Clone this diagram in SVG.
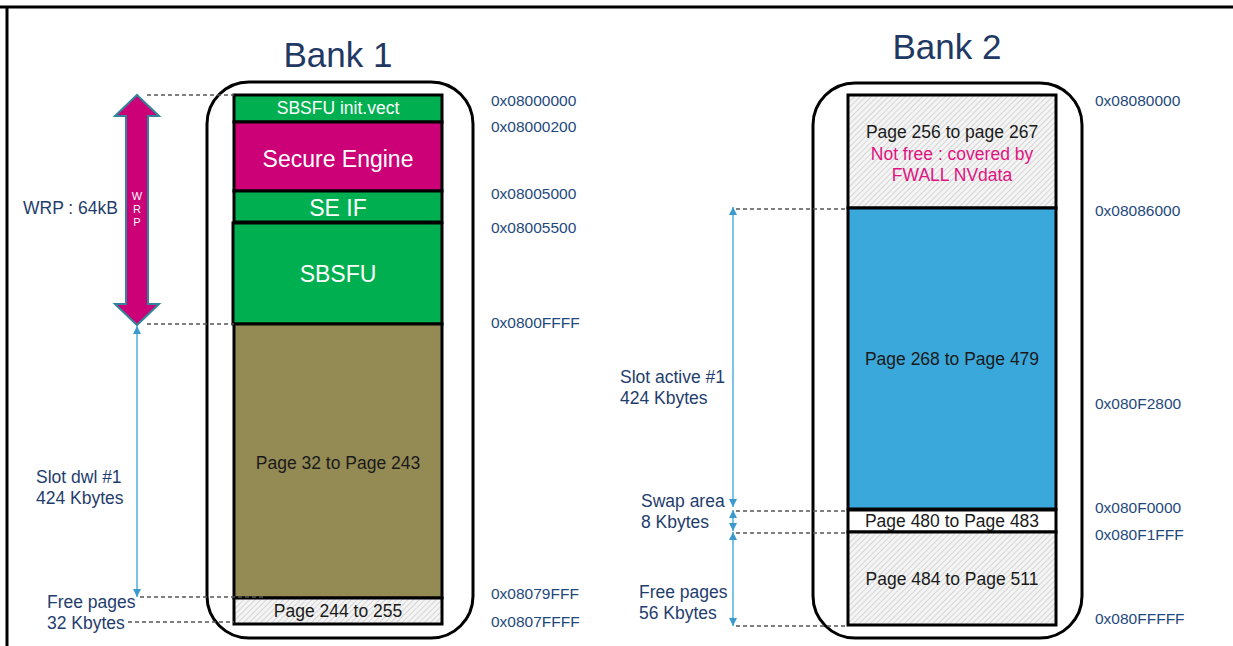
<svg xmlns="http://www.w3.org/2000/svg" width="1233" height="646" viewBox="0 0 1233 646">
  <style>
    text { font-family: "Liberation Sans", Arial, sans-serif; }
    .addr { font-size: 15.5px; fill: #1F497D; }
    .lbl { font-size: 17.5px; fill: #1F3D6D; }
    .title { font-size: 35px; fill: #1F3864; text-anchor: middle; }
    .blk { stroke: #000; stroke-width: 3; }
    .bank { fill: none; stroke: #000; stroke-width: 3; }
    .wt { fill: #fff; text-anchor: middle; }
    .dk { fill: #1a1a1a; text-anchor: middle; font-size: 17.5px; }
    .pk { fill: #E0137F; text-anchor: middle; font-size: 17.5px; }
    .dash { stroke: #555; stroke-width: 1.3; stroke-dasharray: 4 3; fill: none; }
    .dim { stroke: #5BB4E5; stroke-width: 1.6; fill: none; }
  </style>
  <defs>
    <pattern id="hatch" width="4" height="4" patternUnits="userSpaceOnUse" patternTransform="rotate(45)">
      <rect width="4" height="4" fill="#F4F4F4"/>
      <line x1="0" y1="0" x2="0" y2="4" stroke="#B8B8B8" stroke-width="1"/>
    </pattern>
    <marker id="ah" viewBox="0 0 10 10" refX="10" refY="5" markerWidth="8" markerHeight="8" markerUnits="userSpaceOnUse" orient="auto-start-reverse">
      <path d="M0,0 L10,5 L0,10 z" fill="#3A9AD0"/>
    </marker>
  </defs>

  <!-- page frame -->
  <line x1="0" y1="7" x2="1233" y2="7" stroke="#000" stroke-width="3"/>
  <line x1="7" y1="7" x2="7" y2="646" stroke="#000" stroke-width="3"/>

  <!-- Bank 1 -->
  <g id="bank1">
    <text class="title" x="338" y="67">Bank 1</text>
    <rect class="bank" x="207" y="82" width="266" height="556" rx="42"/>
  </g>
  <g id="b1-initvect">
    <rect class="blk" x="234" y="95" width="208" height="27" fill="#00B050"/>
    <text class="wt" x="338" y="114" font-size="17.5">SBSFU init.vect</text>
  </g>
  <g id="b1-se">
    <rect class="blk" x="234" y="122" width="208" height="69" fill="#CC0077"/>
    <text class="wt" x="338" y="167" font-size="23">Secure Engine</text>
  </g>
  <g id="b1-seif">
    <rect class="blk" x="234" y="191" width="208" height="31" fill="#00B050"/>
    <text class="wt" x="338" y="216" font-size="23">SE IF</text>
  </g>
  <g id="b1-sbsfu">
    <rect class="blk" x="233" y="223" width="209" height="101" fill="#00B050"/>
    <text class="wt" x="338" y="282" font-size="23">SBSFU</text>
  </g>
  <g id="b1-slot">
    <rect class="blk" x="234" y="324" width="208" height="274" fill="#948A54"/>
    <text class="dk" x="338" y="469">Page 32 to Page 243</text>
  </g>
  <g id="b1-free">
    <rect class="blk" x="234" y="598" width="208" height="26" fill="url(#hatch)"/>
    <text class="dk" x="338" y="617">Page 244 to 255</text>
  </g>
  <g id="b1-addr">
    <text class="addr" x="491" y="106">0x08000000</text>
    <text class="addr" x="491" y="132">0x08000200</text>
    <text class="addr" x="491" y="199">0x08005000</text>
    <text class="addr" x="491" y="233">0x08005500</text>
    <text class="addr" x="491" y="328">0x0800FFFF</text>
    <text class="addr" x="491" y="599">0x08079FFF</text>
    <text class="addr" x="491" y="627">0x0807FFFF</text>
  </g>
  <g id="b1-wrp">
    <path d="M137,95 L159,116 L148,116 L148,304 L159,304 L137,325 L115,304 L126,304 L126,116 L115,116 Z" fill="#CC0077" stroke="#31849B" stroke-width="2" stroke-linejoin="miter"/>
    <text x="137" y="200" font-size="11" fill="#fff" text-anchor="middle">W</text>
    <text x="137" y="213" font-size="11" fill="#fff" text-anchor="middle">R</text>
    <text x="137" y="226" font-size="11" fill="#fff" text-anchor="middle">P</text>
    <text class="lbl" x="23" y="214">WRP : 64kB</text>
  </g>
  <g id="b1-labels">
    <text class="lbl" x="36" y="483">Slot dwl #1</text>
    <text class="lbl" x="36" y="504">424 Kbytes</text>
    <text class="lbl" x="47" y="608">Free pages</text>
    <text class="lbl" x="47" y="629">32 Kbytes</text>
  </g>

  <!-- Bank 2 -->
  <g id="bank2">
    <text class="title" x="947" y="59">Bank 2</text>
    <rect class="bank" x="813" y="83" width="269" height="555" rx="42"/>
  </g>
  <g id="b2-fwall">
    <rect class="blk" x="848" y="95" width="208" height="113" fill="url(#hatch)"/>
    <text class="dk" x="952" y="138">Page 256 to page 267</text>
    <text class="pk" x="952" y="160">Not free : covered by</text>
    <text class="pk" x="952" y="181">FWALL NVdata</text>
  </g>
  <g id="b2-active">
    <rect class="blk" x="848" y="208" width="208" height="301" fill="#3AA8DB"/>
    <text class="dk" x="952" y="365">Page 268 to Page 479</text>
  </g>
  <g id="b2-swap">
    <rect class="blk" x="848" y="510" width="208" height="22" fill="#fff"/>
    <text class="dk" x="952" y="527">Page 480 to Page 483</text>
  </g>
  <g id="b2-free">
    <rect class="blk" x="848" y="532" width="208" height="93" fill="url(#hatch)"/>
    <text class="dk" x="952" y="585">Page 484 to Page 511</text>
  </g>
  <g id="b2-addr">
    <text class="addr" x="1095" y="106">0x08080000</text>
    <text class="addr" x="1095" y="216">0x08086000</text>
    <text class="addr" x="1095" y="409">0x080F2800</text>
    <text class="addr" x="1095" y="513">0x080F0000</text>
    <text class="addr" x="1095" y="540">0x080F1FFF</text>
    <text class="addr" x="1095" y="624">0x080FFFFF</text>
  </g>
  <g id="b2-labels">
    <text class="lbl" x="620" y="383">Slot active #1</text>
    <text class="lbl" x="620" y="404">424 Kbytes</text>
    <text class="lbl" x="641" y="507">Swap area</text>
    <text class="lbl" x="641" y="528">8 Kbytes</text>
    <text class="lbl" x="639" y="598">Free pages</text>
    <text class="lbl" x="639" y="619">56 Kbytes</text>
  </g>

  <!-- dimension lines and leader lines -->
  <g id="connectors">
    <line class="dash" x1="147" y1="95" x2="234" y2="95"/>
    <line class="dash" x1="147" y1="324" x2="234" y2="324"/>
    <line class="dash" x1="140" y1="597" x2="265" y2="597"/>
    <line class="dash" x1="128" y1="622" x2="234" y2="622"/>
    <line class="dim" x1="137" y1="326" x2="137" y2="597" marker-start="url(#ah)" marker-end="url(#ah)"/>

    <line class="dash" x1="736" y1="209" x2="848" y2="209"/>
    <line class="dash" x1="736" y1="511" x2="848" y2="511"/>
    <line class="dash" x1="736" y1="533" x2="848" y2="533"/>
    <line class="dash" x1="736" y1="626" x2="848" y2="626"/>
    <line class="dim" x1="733" y1="207" x2="733" y2="507" marker-start="url(#ah)" marker-end="url(#ah)"/>
    <line class="dim" x1="733" y1="510" x2="733" y2="521" marker-start="url(#ah)"/>
    <line class="dim" x1="733" y1="521" x2="733" y2="531" marker-end="url(#ah)"/>
    <line class="dim" x1="733" y1="532" x2="733" y2="626" marker-start="url(#ah)" marker-end="url(#ah)"/>
  </g>
</svg>
